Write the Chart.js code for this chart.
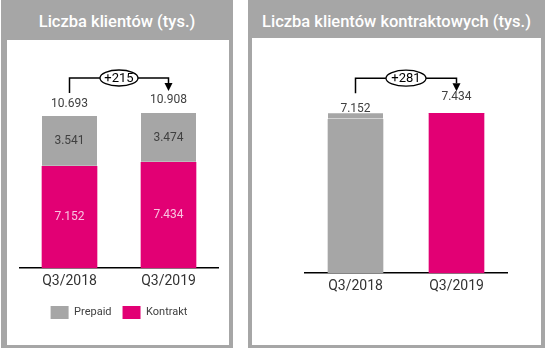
<!DOCTYPE html>
<html>
<head>
<meta charset="utf-8">
<script src="https://cdn.jsdelivr.net/npm/chart.js@4.4.1/dist/chart.umd.min.js"></script>
<style>
    body { margin: 0; width: 550px; height: 351px; background: #fff; position: relative; overflow: hidden; font-family: Roboto, sans-serif; }
    .panel { position: absolute; top: 0; height: 348px; background: #a6a6a6; }
    .panel h2 { position: absolute; left: 0; right: 0; top: 2px; margin: 0; text-align: center; color: #fff; font-weight: 500; font-size: 16.5px; line-height: 40px; white-space: nowrap; }
    .inner { position: absolute; background: #fff; }
</style>
</head>
<body>
<div class="panel" style="left:1px;width:232px;">
    <h2>Liczba klientów (tys.)</h2>
    <div class="inner" style="left:6px;top:40px;width:222px;height:305px;">
        <canvas id="clientsChart" width="222" height="305"></canvas>
    </div>
</div>
<div class="panel" style="left:248px;width:297px;">
    <h2>Liczba klientów kontraktowych (tys.)</h2>
    <div class="inner" style="left:4px;top:38px;width:289px;height:307px;">
        <canvas id="contractChart" width="289" height="307"></canvas>
    </div>
</div>
<script>
// Data (tys.)
const quarters = ['Q3/2018', 'Q3/2019'];
const contractClients = [7152, 7434];
const prepaidClients = [3541, 3474];
const contractStrip = [282, 0]; // thin grey strip on top of the first bar in the right chart
const changeLabels = ['+215', '+281'];

const GREY = '#a6a6a6';
const MAGENTA = '#e20074';

function fmt(n) {
    return String(n).replace(/\B(?=(\d{3})+(?!\d))/g, '.');
}

// Labels inside segments and above the stacks
const valueLabels = {
    id: 'valueLabels',
    afterDatasetsDraw(chart, args, opts) {
        const ctx = chart.ctx;
        const yScale = chart.scales.y;
        ctx.save();
        ctx.font = '12px Roboto';
        ctx.textAlign = 'center';
        ctx.textBaseline = 'middle';
        (opts.inside || []).forEach((color, di) => {
            if (!color) return;
            const ds = chart.data.datasets[di];
            chart.getDatasetMeta(di).data.forEach((bar, i) => {
                ctx.fillStyle = color;
                ctx.fillText(fmt(ds.data[i]), bar.x, (bar.y + bar.base) / 2);
            });
        });
        const meta = chart.getDatasetMeta(0);
        (opts.totals || []).forEach((total, i) => {
            const y = yScale.getPixelForValue(total) - opts.offsets[i];
            ctx.fillStyle = '#404040';
            ctx.fillText(fmt(total), meta.data[i].x, y);
        });
        ctx.restore();
    }
};

// Bracket with the change between the two bars
const changeBracket = {
    id: 'changeBracket',
    afterDatasetsDraw(chart, args, opts) {
        const ctx = chart.ctx;
        const yScale = chart.scales.y;
        const meta = chart.getDatasetMeta(0);
        const x1 = meta.data[0].x;
        const x2 = meta.data[1].x;
        const top = Math.min.apply(null, opts.stackTops.map(v => yScale.getPixelForValue(v)));
        const y = top - 35;
        ctx.save();
        ctx.strokeStyle = '#000';
        ctx.fillStyle = '#000';
        ctx.lineWidth = 1.5;
        ctx.beginPath();
        ctx.moveTo(x1, y + 15);
        ctx.lineTo(x1, y);
        ctx.lineTo(x2, y);
        ctx.lineTo(x2, y + 5);
        ctx.stroke();
        ctx.beginPath();
        ctx.moveTo(x2 - 4, y + 5);
        ctx.lineTo(x2 + 4, y + 5);
        ctx.lineTo(x2, y + 13);
        ctx.closePath();
        ctx.fill();
        const cx = (x1 + x2) / 2;
        ctx.beginPath();
        ctx.ellipse(cx, y, opts.rx, 8, 0, 0, Math.PI * 2);
        ctx.fillStyle = '#fff';
        ctx.fill();
        ctx.lineWidth = 1.3;
        ctx.stroke();
        ctx.fillStyle = '#000';
        ctx.font = '13px Roboto';
        ctx.textAlign = 'center';
        ctx.textBaseline = 'middle';
        ctx.fillText(opts.text, cx, y + 0.5);
        ctx.restore();
    }
};

function xAxis() {
    return {
        stacked: true,
        grid: { display: false, drawTicks: false },
        border: { display: true, color: '#000', width: 1.5 },
        ticks: { color: '#333', padding: 5, font: { family: 'Roboto', size: 14 } }
    };
}

const totals = contractClients.map((v, i) => v + prepaidClients[i]);

new Chart(document.getElementById('clientsChart'), {
    type: 'bar',
    data: {
        labels: quarters,
        datasets: [
            { label: 'Kontrakt', data: contractClients, backgroundColor: MAGENTA, barThickness: 55 },
            { label: 'Prepaid', data: prepaidClients, backgroundColor: GREY, barThickness: 55,
              borderColor: '#fff', borderWidth: { bottom: 1 }, borderSkipped: false }
        ]
    },
    options: {
        responsive: false,
        animation: false,
        layout: { padding: { left: 13, right: 11, top: 29, bottom: 16 } },
        scales: {
            x: xAxis(),
            y: { stacked: true, display: false, min: 0, max: 14000 }
        },
        plugins: {
            tooltip: { enabled: false },
            legend: {
                position: 'bottom',
                reverse: true,
                labels: {
                    boxWidth: 18,
                    boxHeight: 13,
                    padding: 11,
                    color: '#404040',
                    font: { family: 'Roboto', size: 11 },
                    generateLabels(chart) {
                        return Chart.defaults.plugins.legend.labels.generateLabels(chart).map(item => {
                            item.lineWidth = 0;
                            item.strokeStyle = 'rgba(0,0,0,0)';
                            return item;
                        });
                    }
                }
            },
            valueLabels: { inside: ['#f9c3e0', '#404040'], totals: totals, offsets: [12, 13] },
            changeBracket: { stackTops: totals, text: changeLabels[0], rx: 19 }
        }
    },
    plugins: [valueLabels, changeBracket]
});

new Chart(document.getElementById('contractChart'), {
    type: 'bar',
    data: {
        labels: quarters,
        datasets: [
            { label: 'Kontrakt', data: contractClients, backgroundColor: [GREY, MAGENTA], barThickness: 55 },
            { label: 'strip', data: contractStrip, backgroundColor: GREY, barThickness: 55,
              borderColor: '#fff', borderWidth: { bottom: 1 }, borderSkipped: false }
        ]
    },
    options: {
        responsive: false,
        animation: false,
        layout: { padding: { left: 53, right: 34, top: 20, bottom: 45 } },
        scales: {
            x: xAxis(),
            y: { stacked: true, display: false, min: 0, max: 10000 }
        },
        plugins: {
            tooltip: { enabled: false },
            legend: { display: false },
            valueLabels: { totals: contractClients, offsets: [10, 16] },
            changeBracket: { stackTops: contractClients.map((v, i) => v + contractStrip[i]), text: changeLabels[1], rx: 20 }
        }
    },
    plugins: [valueLabels, changeBracket]
});
</script>
</body>
</html>
